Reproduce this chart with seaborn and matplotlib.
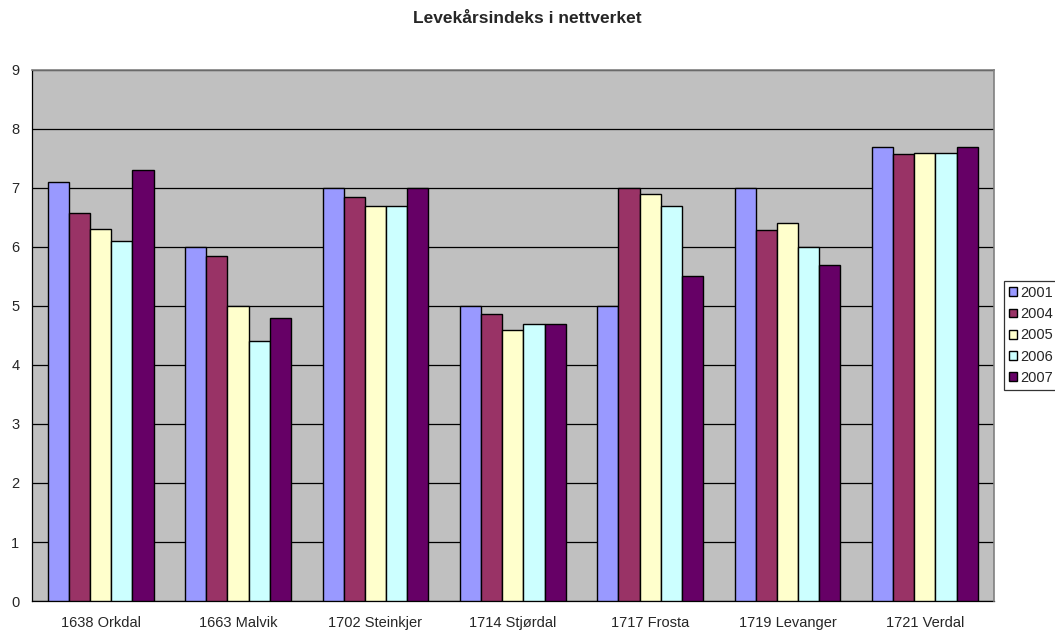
import matplotlib
matplotlib.use("Agg")
import matplotlib.pyplot as plt
from matplotlib.ticker import FixedLocator, NullFormatter
import pandas as pd
import seaborn as sns

kommuner = ["1638 Orkdal", "1663 Malvik", "1702 Steinkjer", "1714 Stjørdal",
            "1717 Frosta", "1719 Levanger", "1721 Verdal"]
years = ["2001", "2004", "2005", "2006", "2007"]
v2001 = [7.1, 6.0, 7.0, 5.0, 5.0, 7.0, 7.7]
v2004 = [6.57, 5.85, 6.85, 4.86, 7.0, 6.29, 7.58]
v2005 = [6.3, 5.0, 6.7, 4.6, 6.9, 6.4, 7.6]
v2006 = [6.1, 4.4, 6.7, 4.7, 6.7, 6.0, 7.6]
v2007 = [7.3, 4.8, 7.0, 4.7, 5.5, 5.7, 7.7]
colors = ["#9999FF", "#993366", "#FFFFCC", "#CCFFFF", "#660066"]

rows = []
for yr, vals in zip(years, [v2001, v2004, v2005, v2006, v2007]):
    for k, v in zip(kommuner, vals):
        rows.append({"kommune": k, "year": yr, "value": v})
df = pd.DataFrame(rows)

sns.set_style("white")
plt.rcParams["font.family"] = ["Liberation Sans", "DejaVu Sans"]

fig = plt.figure(figsize=(10.55, 6.3), dpi=100)
ax = fig.add_axes([0.0303, 0.046, 0.9115, 0.843])
ax.set_facecolor("#C0C0C0")

sns.barplot(data=df, x="kommune", y="value", hue="year", hue_order=years,
            palette=colors, edgecolor="black", linewidth=1.0, width=0.77,
            gap=0, saturation=1, errorbar=None, ax=ax, zorder=3)

ax.set_ylim(0, 9)
ax.set_xlim(-0.5, len(kommuner) - 0.5)
ax.set_yticks(range(0, 10))
ax.yaxis.grid(True, color="black", linewidth=0.9, zorder=0)
ax.set_axisbelow(True)
ax.set_xlabel("")
ax.set_ylabel("")

# category separators as ticks, Excel style
ax.xaxis.set_minor_locator(FixedLocator([i - 0.5 for i in range(len(kommuner) + 1)]))
ax.xaxis.set_minor_formatter(NullFormatter())
ax.tick_params(axis="x", which="major", length=0, labelsize=10.5, pad=11)
ax.tick_params(axis="x", which="minor", length=5, width=0.8, color="black", direction="out")
ax.tick_params(axis="y", length=5, width=0.8, color="black", direction="out", labelsize=10.5, pad=4)

for side in ["left", "bottom"]:
    ax.spines[side].set_color("black")
    ax.spines[side].set_linewidth(0.9)
for side in ["top", "right"]:
    ax.spines[side].set_color("#808080")
    ax.spines[side].set_linewidth(1.2)
    ax.spines[side].set_zorder(5)

fig.text(0.5, 0.971, "Levekårsindeks i nettverket", fontsize=12.5, fontweight="bold",
         ha="center", va="center")

leg = ax.legend(loc="upper left", bbox_to_anchor=(1.0104, 0.603), frameon=True,
                fancybox=False, edgecolor="black", fontsize=10.5, handlelength=0.55,
                handleheight=0.55, handletextpad=0.25, borderpad=0.35, labelspacing=0.5,
                borderaxespad=0)
leg.get_frame().set_linewidth(0.9)

fig.savefig("out.png", dpi=100, facecolor="white")
